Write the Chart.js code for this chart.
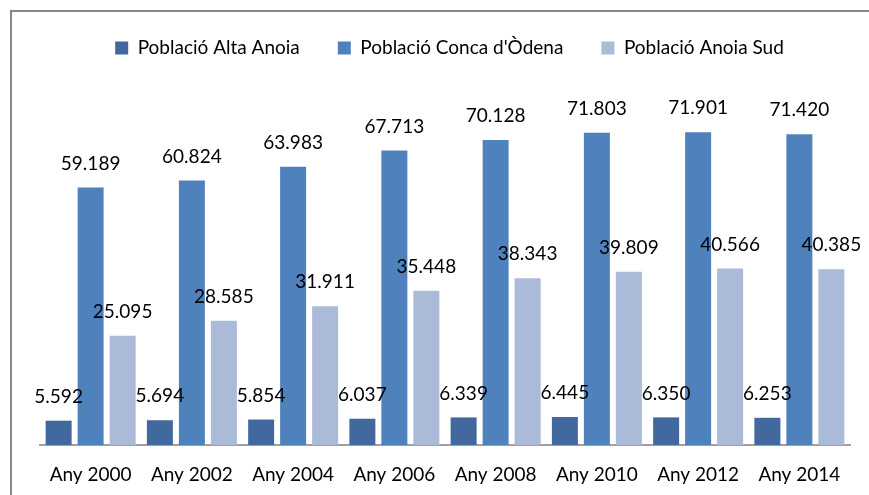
<!DOCTYPE html>
<html>
<head>
<meta charset="utf-8">
<script src="https://cdn.jsdelivr.net/npm/chart.js@4.4.1/dist/chart.umd.min.js"></script>
<style>
  html, body { margin: 0; padding: 0; background: #ffffff; }
  #wrap { width: 869px; height: 495px; }
</style>
</head>
<body>
<div id="wrap"><canvas id="c" width="869" height="495"></canvas></div>
<script>
const categories = ['Any 2000', 'Any 2002', 'Any 2004', 'Any 2006', 'Any 2008', 'Any 2010', 'Any 2012', 'Any 2014'];
const seriesNames = ['Població Alta Anoia', "Població Conca d'Òdena", 'Població Anoia Sud'];
const altaAnoia = [5592, 5694, 5854, 6037, 6339, 6445, 6350, 6253];
const concaOdena = [59189, 60824, 63983, 67713, 70128, 71803, 71901, 71420];
const anoiaSud = [25095, 28585, 31911, 35448, 38343, 39809, 40566, 40385];
const yMin = 0;
const yMax = 80000;

const colors = ['#41699D', '#4F81BD', '#AABAD8'];
const FONT = 'Lato, "Open Sans", sans-serif';

function fmt(v) {
  return String(v).replace(/\B(?=(\d{3})+(?!\d))/g, '.');
}

const framePlugin = {
  id: 'frame',
  beforeDraw(chart) {
    const ctx = chart.ctx;
    ctx.save();
    ctx.fillStyle = '#ffffff';
    ctx.fillRect(0, 0, chart.width, chart.height);
    ctx.fillStyle = '#878787';
    ctx.fillRect(10, 10, 2, chart.height - 10);
    ctx.fillRect(10, 10, chart.width - 10, 2);
    ctx.restore();
  }
};

const labelPlugin = {
  id: 'valueLabels',
  afterDatasetsDraw(chart) {
    const ctx = chart.ctx;
    ctx.save();
    ctx.font = '19px ' + FONT;
    ctx.fillStyle = '#000000';
    ctx.textAlign = 'center';
    ctx.textBaseline = 'middle';
    chart.data.datasets.forEach((ds, i) => {
      const meta = chart.getDatasetMeta(i);
      meta.data.forEach((el, j) => {
        ctx.fillText(fmt(ds.data[j]), el.x, el.y - 24);
      });
    });
    ctx.restore();
  }
};

new Chart(document.getElementById('c'), {
  type: 'bar',
  data: {
    labels: categories,
    datasets: [
      { label: seriesNames[0], data: altaAnoia, backgroundColor: colors[0] },
      { label: seriesNames[1], data: concaOdena, backgroundColor: colors[1] },
      { label: seriesNames[2], data: anoiaSud, backgroundColor: colors[2] }
    ]
  },
  options: {
    responsive: false,
    animation: false,
    devicePixelRatio: 1,
    layout: { padding: { top: 0.5, left: 40, right: 10, bottom: 0 } },
    datasets: {
      bar: { categoryPercentage: 0.948, barPercentage: 0.8125, borderWidth: 0 }
    },
    plugins: {
      legend: {
        position: 'top',
        labels: {
          boxWidth: 13,
          boxHeight: 13,
          padding: 38,
          color: '#000000',
          font: { family: FONT, size: 19 }
        }
      },
      tooltip: { enabled: false }
    },
    scales: {
      x: {
        position: 'bottom',
        grid: { display: false, drawTicks: false },
        border: { display: true, color: '#A0A0A0', width: 2 },
        ticks: { color: '#000000', padding: 18, font: { family: FONT, size: 19 } },
        afterFit(s) { s.height = 50; }
      },
      topSpacer: {
        axis: 'x',
        type: 'category',
        position: 'top',
        grid: { display: false, drawTicks: false },
        border: { display: false },
        ticks: { display: false },
        afterFit(s) { s.height = 29.5; }
      },
      y: {
        display: false,
        min: yMin,
        max: yMax
      },
      rightSpacer: {
        axis: 'y',
        type: 'linear',
        position: 'right',
        grid: { display: false, drawTicks: false },
        border: { display: false },
        ticks: { display: false },
        afterFit(s) { s.width = 9; }
      }
    }
  },
  plugins: [framePlugin, labelPlugin]
});
</script>
</body>
</html>
